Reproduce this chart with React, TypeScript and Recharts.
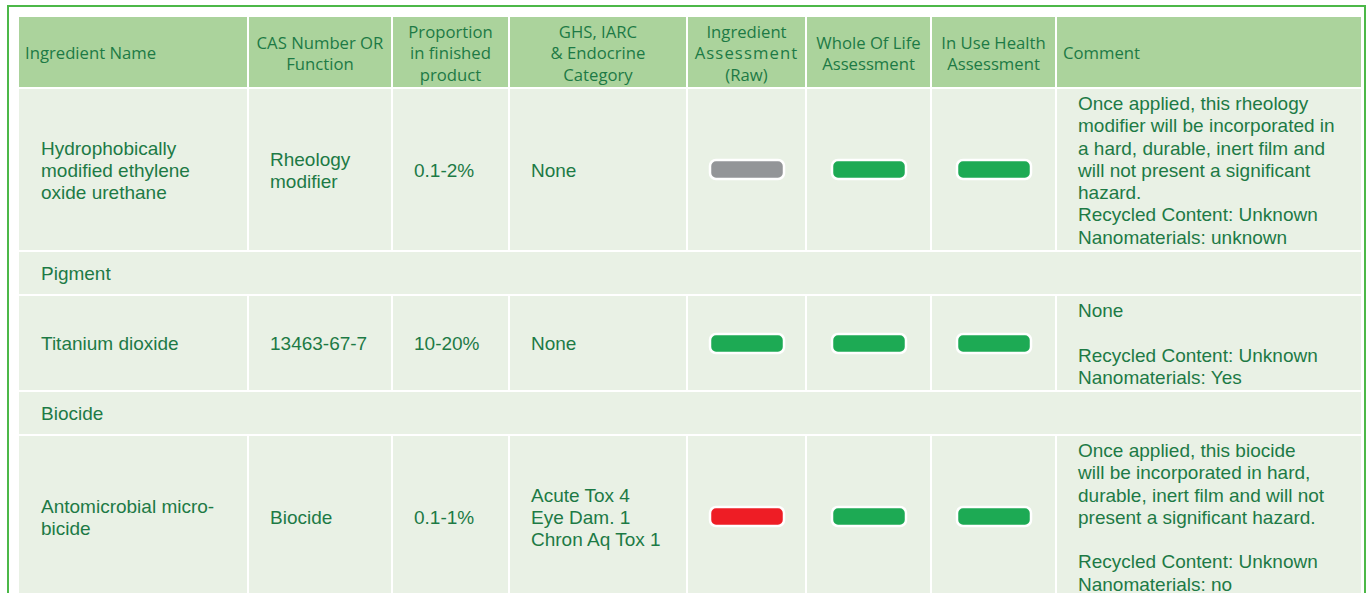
import React from 'react'
import { BarChart, Bar, XAxis, YAxis } from 'recharts'

// table content
const headers = [
  'Ingredient Name',
  'CAS Number OR\nFunction',
  'Proportion\nin finished\nproduct',
  'GHS, IARC\n& Endocrine\nCategory',
  'Ingredient\nAssessment\n(Raw)',
  'Whole Of Life\nAssessment',
  'In Use Health\nAssessment',
  'Comment'
]
const groupLabels = ['', 'Pigment', 'Biocide']
const ingredients = [
  'Hydrophobically\nmodified ethylene\noxide urethane',
  'Titanium dioxide',
  'Antomicrobial micro-\nbicide'
]
const casNumbers = ['Rheology\nmodifier', '13463-67-7', 'Biocide']
const proportions = ['0.1-2%', '10-20%', '0.1-1%']
const hazards = ['None', 'None', 'Acute Tox 4\nEye Dam. 1\nChron Aq Tox 1']
const ingredientRatings = ['grey', 'green', 'red']
const wholeOfLifeRatings = ['green', 'green', 'green']
const inUseRatings = ['green', 'green', 'green']
const comments = [
  'Once applied, this rheology\nmodifier will be incorporated in\na hard, durable, inert film and\nwill not present a significant\nhazard.\nRecycled Content: Unknown\nNanomaterials: unknown',
  'None\n\nRecycled Content: Unknown\nNanomaterials: Yes',
  'Once applied, this biocide\nwill be incorporated in hard,\ndurable, inert film and will not\npresent a significant hazard.\n\nRecycled Content: Unknown\nNanomaterials: no'
]

const ratingColors: Record<string, string> = {
  green: '#1daa54',
  grey: '#939598',
  red: '#ee1d25'
}

const colWidths = [228, 142, 115, 176, 117, 123, 123, 304]
const rowHeights = [161, 94, 161]
const groupHeight = 42

const textGreen = '#1d7a45'
const headerBg = '#abd39c'
const cellBg = '#e9f1e5'

function Pill({ rating }: { rating: string }) {
  const data = [{ name: rating, value: 1 }]
  return (
    <BarChart
      width={78}
      height={23}
      data={data}
      barCategoryGap={0}
      barGap={0}
      margin={{ top: 2, right: 2, bottom: 2, left: 2 }}
    >
      <XAxis type="category" dataKey="name" hide />
      <YAxis type="number" domain={[0, 1]} hide />
      <Bar
        dataKey="value"
        fill={ratingColors[rating]}
        stroke="#ffffff"
        strokeWidth={2.5}
        radius={6}
        isAnimationActive={false}
      />
    </BarChart>
  )
}

const bodyText: React.CSSProperties = {
  fontFamily: '"Liberation Sans", Arial, sans-serif',
  fontSize: 19,
  lineHeight: '22.3px',
  color: textGreen,
  whiteSpace: 'pre-line'
}

function Cell({ children, center }: { children: React.ReactNode; center?: boolean }) {
  return (
    <div
      style={{
        ...bodyText,
        background: cellBg,
        display: 'flex',
        alignItems: 'center',
        justifyContent: center ? 'center' : 'flex-start',
        paddingLeft: center ? 0 : 21,
        paddingTop: center ? 0 : 3,
        boxSizing: 'border-box'
      }}
    >
      {children}
    </div>
  )
}

export default function App() {
  return (
    <div
      style={{
        position: 'absolute',
        left: 0,
        top: 0,
        width: 1368,
        height: 593,
        overflow: 'hidden',
        background: '#ffffff'
      }}
    >
      <div
        style={{
          position: 'absolute',
          left: 7,
          top: 5,
          width: 1359,
          height: 640,
          border: '2.5px solid #4cb848',
          boxSizing: 'border-box'
        }}
      />
      <div
        style={{
          position: 'absolute',
          left: 19,
          top: 17,
          display: 'grid',
          gridTemplateColumns: colWidths.map(w => `${w}px`).join(' '),
          gridAutoRows: 'auto',
          columnGap: 2,
          rowGap: 2,
          background: '#ffffff'
        }}
      >
        {headers.map((h, i) => (
          <div
            key={`h-${i}`}
            style={{
              height: 70,
              background: headerBg,
              color: textGreen,
              fontFamily: '"Open Sans", sans-serif',
              fontSize: 16.7,
              lineHeight: '21.5px',
              display: 'flex',
              flexDirection: 'column',
              justifyContent: 'center',
              alignItems: i === 0 || i === 7 ? 'flex-start' : 'center',
              paddingLeft: i === 0 || i === 7 ? 6 : 0,
              paddingTop: 2,
              boxSizing: 'border-box'
            }}
          >
            {h.split('\n').map((line, j) => (
              <span
                key={j}
                style={{ letterSpacing: i === 4 && j === 1 ? 1.1 : 0, whiteSpace: 'nowrap' }}
              >
                {line}
              </span>
            ))}
          </div>
        ))}
        {ingredients.map((name, r) => (
          <React.Fragment key={`r-${r}`}>
            {groupLabels[r] && (
              <div
                style={{
                  ...bodyText,
                  gridColumn: '1 / -1',
                  height: groupHeight,
                  background: cellBg,
                  display: 'flex',
                  alignItems: 'center',
                  paddingLeft: 22,
                  paddingTop: 2,
                  boxSizing: 'border-box'
                }}
              >
                {groupLabels[r]}
              </div>
            )}
            <div style={{ height: rowHeights[r], display: 'grid' }}>
              <Cell>
                <span style={{ paddingLeft: 1 }}>{name}</span>
              </Cell>
            </div>
            <Cell>{casNumbers[r]}</Cell>
            <Cell>{proportions[r]}</Cell>
            <Cell>{hazards[r]}</Cell>
            <Cell center>
              <Pill rating={ingredientRatings[r]} />
            </Cell>
            <Cell center>
              <Pill rating={wholeOfLifeRatings[r]} />
            </Cell>
            <Cell center>
              <Pill rating={inUseRatings[r]} />
            </Cell>
            <Cell>{comments[r]}</Cell>
          </React.Fragment>
        ))}
      </div>
    </div>
  )
}
